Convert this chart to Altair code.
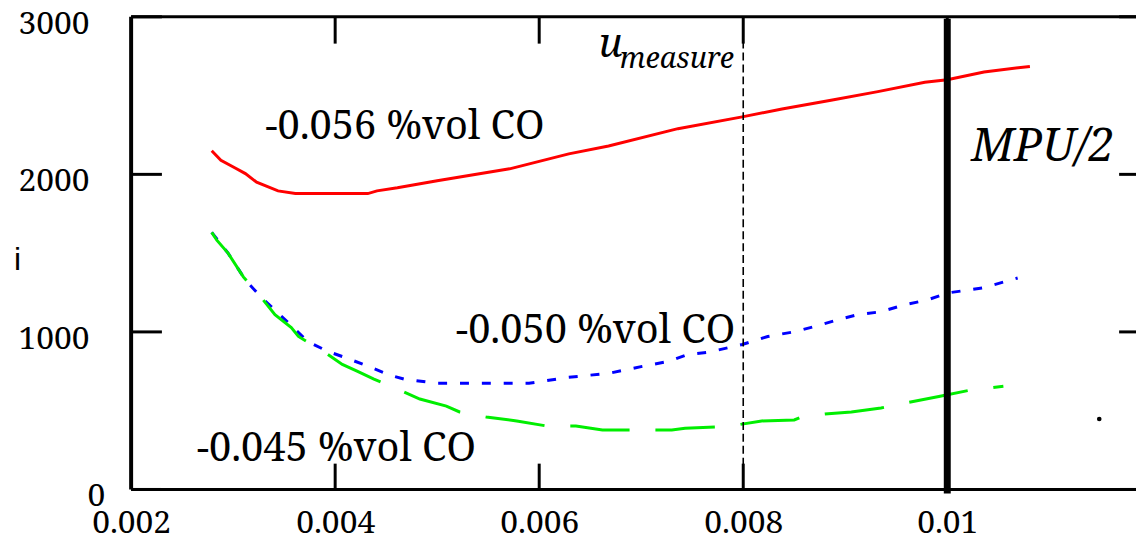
import altair as alt
import pandas as pd

# ---- data ----
red_x = [0.00279, 0.00288, 0.00302, 0.00312, 0.00323, 0.00344, 0.00361, 0.00432, 0.00441, 0.00461,
         0.00500, 0.00571, 0.00629, 0.00668, 0.00736, 0.00799, 0.00838, 0.00886, 0.00932, 0.00978,
         0.01000, 0.01036, 0.01081]
red_y = [2150, 2090, 2040, 2005, 1950, 1895, 1878, 1878, 1895, 1915,
         1960, 2035, 2130, 2180, 2290, 2365, 2415, 2470, 2525, 2585,
         2600, 2650, 2685]

blue_x = [0.00279, 0.00295, 0.00312, 0.00327, 0.00357, 0.00373, 0.00393, 0.00412, 0.00435, 0.00454,
          0.00468, 0.00500, 0.00590, 0.00629, 0.00668, 0.00701, 0.00727, 0.00746, 0.00765, 0.00799,
          0.00824, 0.00851, 0.00873, 0.00893, 0.00912, 0.00935, 0.00958, 0.00981, 0.01001, 0.01035,
          0.01069]
blue_y = [1632, 1500, 1330, 1223, 1040, 939, 876, 832, 775, 725,
          700, 674, 674, 712, 737, 781, 813, 857, 870, 920,
          971, 1002, 1040, 1078, 1109, 1128, 1172, 1204, 1248, 1279,
          1342]

green_x = [0.00279, 0.00284, 0.00295, 0.00310, 0.00327, 0.00341, 0.00357, 0.00364, 0.00390, 0.00407,
           0.00422, 0.00438, 0.00461, 0.00483, 0.00509, 0.00522, 0.00548, 0.00578, 0.00607, 0.00636,
           0.00662, 0.00701, 0.00730, 0.00743, 0.00785, 0.00818, 0.00850, 0.00857, 0.00880, 0.00906,
           0.00935, 0.00964, 0.00993, 0.01022, 0.01055]
green_y = [1632, 1582, 1500, 1349, 1223, 1109, 1027, 971, 870, 794,
           750, 700, 637, 574, 529, 492, 460, 435, 403, 403,
           378, 378, 378, 388, 400, 435, 441, 460, 479, 492,
           517, 555, 592, 630, 655]

x_ticks = [0.002, 0.004, 0.006, 0.008, 0.01]
y_ticks = [0, 1000, 2000, 3000]
u_measure_x = 0.008
mpu_x = 0.01

W, H = 1012, 476
FONT = "Noto Serif"

xs = alt.Scale(domain=[0.002, 0.01185], nice=False, zero=False)
ys = alt.Scale(domain=[0, 3000], nice=False, zero=True)

def series(xv, yv):
    return pd.DataFrame({"x": xv, "y": yv})

X = alt.X("x:Q", scale=xs, axis=alt.Axis(values=x_ticks, format=".3~f", domain=False, ticks=False,
                                          grid=False, labelFont=FONT, labelFontSize=32,
                                          labelColor="black", labelPadding=18, labelFlush=False,
                                          labelOverlap=False, title=None))
Y = alt.Y("y:Q", scale=ys, axis=None)

red = alt.Chart(series(red_x, red_y)).mark_line(color="#ff0000", strokeWidth=3).encode(x=X, y=Y)
blue = alt.Chart(series(blue_x, blue_y)).mark_line(color="#0000ff", strokeWidth=3,
                                                   strokeDash=[9, 13]).encode(x=X, y=Y)
green = alt.Chart(series(green_x, green_y)).mark_line(color="#00ee00", strokeWidth=3,
                                                      strokeDash=[60, 26]).encode(x=X, y=Y)

one = pd.DataFrame({"k": [0]})

# frame
frame_left = alt.Chart(one).mark_rule(color="black", strokeWidth=4).encode(
    x=alt.value(0), y=alt.value(0), y2=alt.value(H))
frame_top = alt.Chart(one).mark_rule(color="black", strokeWidth=3).encode(
    x=alt.value(0), x2=alt.value(W), y=alt.value(0))
frame_bottom = alt.Chart(one).mark_rule(color="black", strokeWidth=3).encode(
    x=alt.value(0), x2=alt.value(W), y=alt.value(H))

xt = pd.DataFrame({"x": x_ticks[1:]})
yt = pd.DataFrame({"y": y_ticks})

ticks_bottom = alt.Chart(xt).mark_rule(color="black", strokeWidth=3).encode(
    x=X, y=alt.value(H - 26), y2=alt.value(H))
ticks_top = alt.Chart(xt).mark_rule(color="black", strokeWidth=3).encode(
    x=X, y=alt.value(0), y2=alt.value(27))
ticks_left = alt.Chart(yt).mark_rule(color="black", strokeWidth=3).encode(
    y=Y, x=alt.value(0), x2=alt.value(31))
ticks_right = alt.Chart(yt).mark_rule(color="black", strokeWidth=3).encode(
    y=Y, x=alt.value(W - 17), x2=alt.value(W))

# y labels
ylab = alt.Chart(pd.DataFrame({"y": y_ticks[1:], "t": [str(v) for v in y_ticks[1:]]})).mark_text(
    font=FONT, fontSize=32, align="right", baseline="middle", dx=-42, dy=7, color="black").encode(
    y=Y, x=alt.value(0), text="t:N")
ylab0 = alt.Chart(pd.DataFrame({"y": [0], "t": ["0"]})).mark_text(
    font=FONT, fontSize=32, align="right", baseline="middle", dx=-26, dy=7, color="black").encode(
    y=Y, x=alt.value(0), text="t:N")

# vertical markers
vdash = alt.Chart(pd.DataFrame({"x": [u_measure_x]})).mark_rule(
    color="black", strokeWidth=1.6, strokeDash=[8, 4]).encode(x=X, y=alt.value(0), y2=alt.value(H))
vthick = alt.Chart(pd.DataFrame({"x": [mpu_x]})).mark_rule(
    color="black", strokeWidth=7).encode(x=X, y=alt.value(2), y2=alt.value(H + 4))

def txt(s, x, y, size, style="normal", font=FONT):
    return alt.Chart(one).mark_text(text=s, font=font, fontSize=size, fontStyle=style,
                                    align="left", baseline="alphabetic", color="black").encode(
        x=alt.value(x), y=alt.value(y))

labels = [
    txt("-0.056 %vol CO", 135, 123, 40),
    txt("-0.050 %vol CO", 327, 328, 40),
    txt("-0.045 %vol CO", 66, 447, 40),
    txt("u", 471, 40, 40, "italic"),
    txt("measure", 492, 52, 29, "italic"),
    txt("MPU/2", 846, 145, 46, "italic"),
    txt("i", -118, 255, 32, font="Liberation Sans"),
]

dot = alt.Chart(one).mark_circle(color="black", size=22, opacity=1).encode(
    x=alt.value(975), y=alt.value(405))

chart = alt.layer(
    red, blue, green,
    frame_left, frame_top, frame_bottom,
    ticks_bottom, ticks_top, ticks_left, ticks_right,
    ylab, ylab0, vdash, vthick, dot, *labels
).properties(
    width=W, height=H,
    autosize=alt.AutoSizeParams(type="none"),
    padding={"left": 124, "top": 7, "right": 0, "bottom": 45},
).configure_view(strokeWidth=0).configure(background="white")

chart.save("out.html", embed_options={"renderer": "svg", "actions": False})
